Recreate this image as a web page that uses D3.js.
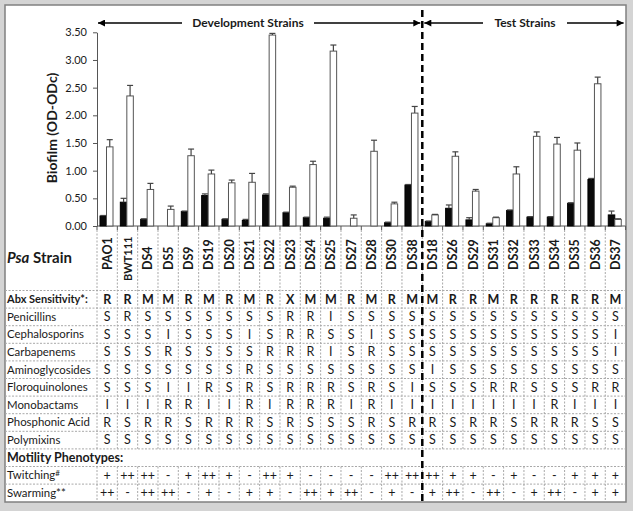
<html><head>
  <script src="https://d3js.org/d3.v7.min.js"></script>
  <style>
    body { margin: 0; background: #d4d4d4; }
    text { font-family: Lato, 'Open Sans', sans-serif; fill: #1a1a1a; }
  </style>
</head>
<body>
<script>
  // strains: first 16 are development strains, the rest test strains
  const strains = ["PAO1","BWT111","DS4","DS5","DS9","DS19","DS20","DS21","DS22","DS23","DS24","DS25","DS27","DS28","DS30","DS38",
                   "DS18","DS26","DS29","DS31","DS32","DS33","DS34","DS35","DS36","DS37"]
  const firstTest = "DS18"

  // biofilm (OD-ODc), filled and open bars, with upper error
  const filledBars = [0.18,0.43,0.12,0.00,0.26,0.55,0.12,0.10,0.56,0.24,0.15,0.14,0.00,0.00,0.06,0.74,
                      0.08,0.32,0.11,0.04,0.28,0.16,0.16,0.41,0.84,0.20]
  const filledErr  = [0.01,0.07,0.01,0.00,0.01,0.03,0.01,0.02,0.02,0.01,0.01,0.02,0.00,0.00,0.01,0.01,
                      0.01,0.06,0.04,0.01,0.01,0.01,0.01,0.01,0.02,0.07]
  const openBars   = [1.43,2.35,0.66,0.30,1.27,0.94,0.78,0.79,3.45,0.70,1.11,3.16,0.14,1.35,0.40,2.04,
                      0.20,1.26,0.63,0.15,0.94,1.62,1.48,1.37,2.57,0.12]
  const openErr    = [0.13,0.19,0.11,0.06,0.12,0.07,0.05,0.16,0.03,0.02,0.06,0.11,0.06,0.20,0.03,0.12,
                      0.01,0.08,0.03,0.01,0.13,0.08,0.12,0.13,0.12,0.01]

  const yTicks = [0,0.5,1,1.5,2,2.5,3,3.5]

  // table rows
  const abx            = "R R M M R M R M R X M M R M R M M R R M R R R R R M".split(" ")
  const penicillins    = "S R S S S S S S S R R I S S S S S S S S S S S S S S".split(" ")
  const cephalosporins = "S S S I S S S I S R R S S I S S S S S S S S S S S I".split(" ")
  const carbapenems    = "S S S R S S S S R R R I S R S S S S S S S S S S S I".split(" ")
  const aminoglycos    = "S S S S S S S R S S S S S S S S I S S S S S S S S S".split(" ")
  const floroquin      = "S S S I I R S R S R R R S R S I S S S R R S S S R R".split(" ")
  const monobactams    = "I I I R R I I R I R R R I R I I I I I I I I R I I I".split(" ")
  const phosphonic     = "R S R R S R R R S R S S S R S R R S R R S R R R S S".split(" ")
  const polymixins     = "S S S S S S S S S S S S S S S S S S S S S S S S S S".split(" ")
  const twitching      = "+ ++ ++ - + ++ + - ++ + - - - - ++ ++ ++ + + - + - - + + +".split(" ")
  const swarming       = "++ - ++ ++ - + - + + - ++ + ++ - + - + ++ - ++ - + ++ - + +".split(" ")

  const rows = [
    {label: "Abx Sensitivity*:", values: abx, bold: true},
    {label: "Penicillins", values: penicillins},
    {label: "Cephalosporins", values: cephalosporins},
    {label: "Carbapenems", values: carbapenems},
    {label: "Aminoglycosides", values: aminoglycos},
    {label: "Floroquinolones", values: floroquin},
    {label: "Monobactams", values: monobactams},
    {label: "Phosphonic Acid", values: phosphonic},
    {label: "Polymixins", values: polymixins},
    {label: "Motility Phenotypes:", values: null, bold: true},
    {label: "Twitching", sup: "#", values: twitching},
    {label: "Swarming**", values: swarming}
  ]

  const W = 633, H = 511
  const svg = d3.select("body").append("svg").attr("width", W).attr("height", H)

  // frame
  svg.append("rect").attr("x", 5).attr("y", 5).attr("width", 621).attr("height", 497)
     .attr("fill", "#fff").attr("stroke", "#808080").attr("stroke-width", 1.5)

  const x = d3.scaleBand().domain(strains).range([97, 625.6])
  const sub = d3.scaleBand().domain(["filled","open"]).range([3, 16])
  const y = d3.scaleLinear().domain([0, 3.5]).range([226, 32.3])

  const headerTop = 226, rowTop = 290.5, rowH = 17.6
  const tableBottom = rowTop + rows.length * rowH
  const gridColor = "#a8a8a8"

  // y axis
  const yAxis = svg.append("g").attr("transform", "translate(97,0)")
     .call(d3.axisLeft(y).tickValues(yTicks).tickFormat(d3.format(".2f")).tickSize(4).tickSizeOuter(0))
  yAxis.select(".domain").attr("stroke", "#555")
  yAxis.selectAll(".tick line").attr("stroke", "#555")
  yAxis.selectAll(".tick text").attr("x", -10).style("font-size", "11px").style("font-family", "Lato").attr("fill", "#444")

  svg.append("text").attr("transform", "translate(57,128) rotate(-90)")
     .attr("text-anchor", "middle").style("font-size", "14px").style("font-weight", "bold")
     .text("Biofilm (OD-ODc)")

  // x axis line + boundary ticks
  svg.append("line").attr("x1", 97).attr("x2", 625.6).attr("y1", headerTop).attr("y2", headerTop)
     .attr("stroke", "#555")
  const bounds = strains.map(d => x(d)).concat([x.range()[1]])
  svg.selectAll(".xtick").data(bounds).join("line")
     .attr("x1", d => d).attr("x2", d => d).attr("y1", headerTop).attr("y2", headerTop + 4)
     .attr("stroke", "#555")

  // table grid
  const motilityTop = rowTop + 9 * rowH, motilityBottom = rowTop + 10 * rowH
  svg.selectAll(".vgrid").data(bounds.slice(0, -1)).join("g").each(function(bx) {
    const g = d3.select(this)
    g.append("line").attr("x1", bx).attr("x2", bx).attr("y1", headerTop + 4).attr("y2", motilityTop)
    g.append("line").attr("x1", bx).attr("x2", bx).attr("y1", motilityBottom).attr("y2", tableBottom)
  }).selectAll("line").attr("stroke", gridColor).attr("stroke-dasharray", "2,1.5")

  svg.selectAll(".hgrid").data(d3.range(rows.length)).join("line")
     .attr("x1", 5).attr("x2", 625.6)
     .attr("y1", i => rowTop + i * rowH).attr("y2", i => rowTop + i * rowH)
     .attr("stroke", gridColor).attr("stroke-dasharray", "2,1.5")

  // bars
  const barData = strains.map((s, i) => [
    {strain: s, key: "filled", v: filledBars[i], e: filledErr[i]},
    {strain: s, key: "open", v: openBars[i], e: openErr[i]}
  ]).flat()

  const bars = svg.append("g")
  bars.selectAll("rect").data(barData).join("rect")
     .attr("x", d => x(d.strain) + sub(d.key))
     .attr("y", d => y(d.v))
     .attr("width", sub.bandwidth())
     .attr("height", d => y(0) - y(d.v))
     .attr("fill", d => d.key == "filled" ? "#0a0a0a" : "#fff")
     .attr("stroke", d => d.key == "filled" ? "#000" : "#555")
     .attr("stroke-width", 1)

  const errs = bars.selectAll(".err").data(barData.filter(d => d.e > 0)).join("g")
  errs.append("line")
     .attr("x1", d => x(d.strain) + sub(d.key) + sub.bandwidth() / 2)
     .attr("x2", d => x(d.strain) + sub(d.key) + sub.bandwidth() / 2)
     .attr("y1", d => y(d.v)).attr("y2", d => y(d.v + d.e))
  errs.append("line")
     .attr("x1", d => x(d.strain) + sub(d.key) + sub.bandwidth() / 2 - 3)
     .attr("x2", d => x(d.strain) + sub(d.key) + sub.bandwidth() / 2 + 3)
     .attr("y1", d => y(d.v + d.e)).attr("y2", d => y(d.v + d.e))
  errs.selectAll("line").attr("stroke", "#444").attr("stroke-width", 1.2)

  // header row
  const hdr = svg.append("text").attr("x", 7).attr("y", 263).style("font-size", "15px").style("font-weight", "bold")
  hdr.append("tspan").style("font-style", "italic").text("Psa")
  hdr.append("tspan").text(" Strain")

  svg.selectAll(".strain").data(strains).join("text")
     .attr("transform", d => `translate(${x(d) + x.bandwidth() / 2 + 4.5},${d == "BWT111" ? 281 : 270}) rotate(-90)`)
     .style("font-size", d => d == "BWT111" ? "11px" : "12.5px")
     .style("font-weight", "bold")
     .text(d => d)

  // table rows
  rows.forEach((r, i) => {
    const cy = rowTop + i * rowH + rowH / 2
    const lab = svg.append("text").attr("x", 7).attr("y", cy).attr("dy", "0.35em")
       .style("font-size", r.bold ? (r.values ? "11px" : "12.5px") : "11.4px")
       .style("font-weight", r.bold ? "bold" : "normal")
       .text(r.label)
    if (r.sup) lab.append("tspan").attr("dy", "-0.45em").style("font-size", "8px").text(r.sup)
    if (!r.values) return
    svg.selectAll(null).data(r.values).join("text")
       .attr("x", (d, j) => x(strains[j]) + x.bandwidth() / 2)
       .attr("y", cy).attr("dy", "0.35em")
       .attr("text-anchor", "middle")
       .style("font-size", "12.5px").style("font-weight", r.bold ? "bold" : "normal")
       .text(d => d)
  })

  // divider between development and test strains
  const divX = x(firstTest)
  svg.append("line").attr("x1", divX).attr("x2", divX).attr("y1", 10).attr("y2", tableBottom)
     .attr("stroke", "#000").attr("stroke-width", 2.5).attr("stroke-dasharray", "7,4")

  // group arrows
  svg.append("defs").append("marker").attr("id", "ah")
     .attr("viewBox", "0 0 10 10").attr("refX", 10).attr("refY", 5)
     .attr("markerWidth", 8).attr("markerHeight", 7).attr("markerUnits", "userSpaceOnUse")
     .attr("orient", "auto-start-reverse")
     .append("path").attr("d", "M0,0 L10,5 L0,10 z").attr("fill", "#000")

  const arrowY = 23
  const groups = [
    {label: "Development Strains", x0: x(strains[0]) + 1, x1: divX - 2, tx: 248, half: 66},
    {label: "Test Strains", x0: divX + 2, x1: x.range()[1] - 2, tx: 525, half: 42}
  ]
  groups.forEach(g => {
    svg.append("line").attr("x1", g.x0).attr("x2", g.tx - g.half).attr("y1", arrowY).attr("y2", arrowY)
       .attr("stroke", "#000").attr("stroke-width", 1.3).attr("marker-start", "url(#ah)")
    svg.append("line").attr("x1", g.tx + g.half).attr("x2", g.x1).attr("y1", arrowY).attr("y2", arrowY)
       .attr("stroke", "#000").attr("stroke-width", 1.3).attr("marker-end", "url(#ah)")
    svg.append("text").attr("x", g.tx).attr("y", arrowY).attr("dy", "0.35em")
       .attr("text-anchor", "middle").style("font-size", "12px").style("font-weight", "bold")
       .text(g.label)
  })
</script>
</body></html>
